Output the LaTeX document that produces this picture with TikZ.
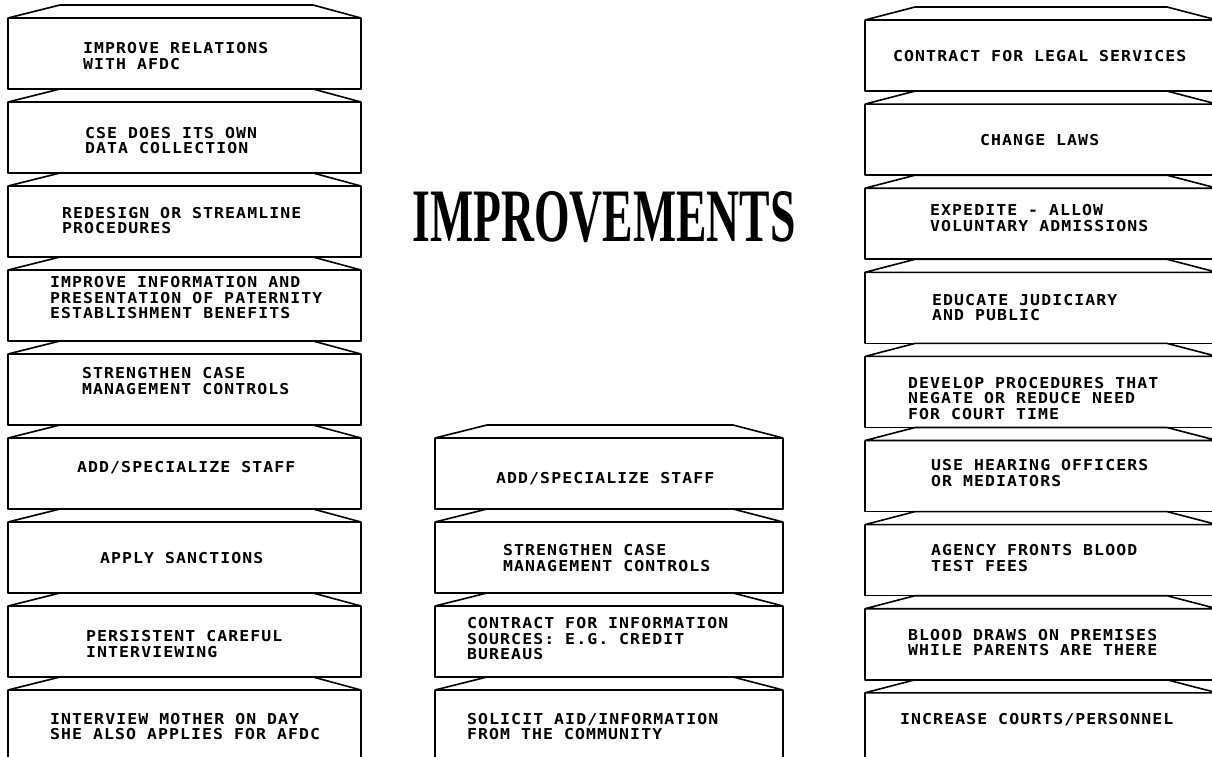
\documentclass[tikz,border=0pt]{standalone}
\usepackage{fontspec}
\newfontfamily\boxfont{DejaVu Sans Mono}[LetterSpace=7.2,FakeStretch=1.1]
\newfontfamily\titlefont{Liberation Serif}[FakeStretch=0.605]
\newcommand{\capbox}[5]{%
  \draw[edge] (#1,#3+13) -- (#1+#4,#3) -- (#2-#5,#3) -- (#2,#3+13) -- cycle;
  \draw[edge] (#1,#3+84) -- (#2,#3+84);
  \draw[side] (#1,#3+13) -- (#1,#3+84) (#2,#3+13) -- (#2,#3+84);
}
\begin{document}
\begin{tikzpicture}[x=1pt,y=-1pt,
  edge/.style={line width=1.6pt, line join=round, line cap=round},
  side/.style={line width=1.1pt},
  lbl/.style={anchor=west, inner sep=0pt, align=left,
    font=\boxfont\bfseries\fontsize{15}{15.5}\selectfont\frenchspacing},
  ttl/.style={inner sep=0pt, font=\titlefont\bfseries\fontsize{75.5}{80}\selectfont}
]
\useasboundingbox (0,0) rectangle (1212,757);
\clip (0,0) rectangle (1212,757);
\fill[white] (0,0) rectangle (1212,757);

% boxes
\foreach \i in {0,...,8} { \capbox{8}{361}{5+84*\i}{52}{48} }
\foreach \i in {0,...,3} { \capbox{435}{783}{425+84*\i}{52}{50} }
\foreach \i in {0,...,8} { \capbox{865}{1217}{7+84.1*\i}{50}{50} }

% title
\node[ttl] (title) at (604,217) {IMPROVEMENTS};

% left column
\node[lbl] (l1) at (83,56) {IMPROVE RELATIONS\\WITH AFDC};
\node[lbl] (l2) at (85,140.5) {CSE DOES ITS OWN\\DATA COLLECTION};
\node[lbl] (l3) at (62,220.5) {REDESIGN OR STREAMLINE\\PROCEDURES};
\node[lbl] (l4) at (50,298) {IMPROVE INFORMATION AND\\PRESENTATION OF PATERNITY\\ESTABLISHMENT BENEFITS};
\node[lbl] (l5) at (82,381) {STRENGTHEN CASE\\MANAGEMENT CONTROLS};
\node[lbl] (l6) at (77,468) {ADD/SPECIALIZE STAFF};
\node[lbl] (l7) at (100,558.5) {APPLY SANCTIONS};
\node[lbl] (l8) at (86,644) {PERSISTENT CAREFUL\\INTERVIEWING};
\node[lbl] (l9) at (50,726.5) {INTERVIEW MOTHER ON DAY\\SHE ALSO APPLIES FOR AFDC};

% middle column
\node[lbl] (m6) at (496,478.5) {ADD/SPECIALIZE STAFF};
\node[lbl] (m7) at (503,558) {STRENGTHEN CASE\\MANAGEMENT CONTROLS};
\node[lbl] (m8) at (467,639) {CONTRACT FOR INFORMATION\\SOURCES: E.G. CREDIT\\BUREAUS};
\node[lbl] (m9) at (467,726.5) {SOLICIT AID/INFORMATION\\FROM THE COMMUNITY};

% right column
\node[lbl] (r1) at (893,56) {CONTRACT FOR LEGAL SERVICES};
\node[lbl] (r2) at (980,140) {CHANGE LAWS};
\node[lbl] (r3) at (930,218) {EXPEDITE - ALLOW\\VOLUNTARY ADMISSIONS};
\node[lbl] (r4) at (932,307.5) {EDUCATE JUDICIARY\\AND PUBLIC};
\node[lbl] (r5) at (908,398.5) {DEVELOP PROCEDURES THAT\\NEGATE OR REDUCE NEED\\FOR COURT TIME};
\node[lbl] (r6) at (931,473) {USE HEARING OFFICERS\\OR MEDIATORS};
\node[lbl] (r7) at (931,558) {AGENCY FRONTS BLOOD\\TEST FEES};
\node[lbl] (r8) at (908,642.5) {BLOOD DRAWS ON PREMISES\\WHILE PARENTS ARE THERE};
\node[lbl] (r9) at (900,720) {INCREASE COURTS/PERSONNEL};
\end{tikzpicture}
\end{document}
